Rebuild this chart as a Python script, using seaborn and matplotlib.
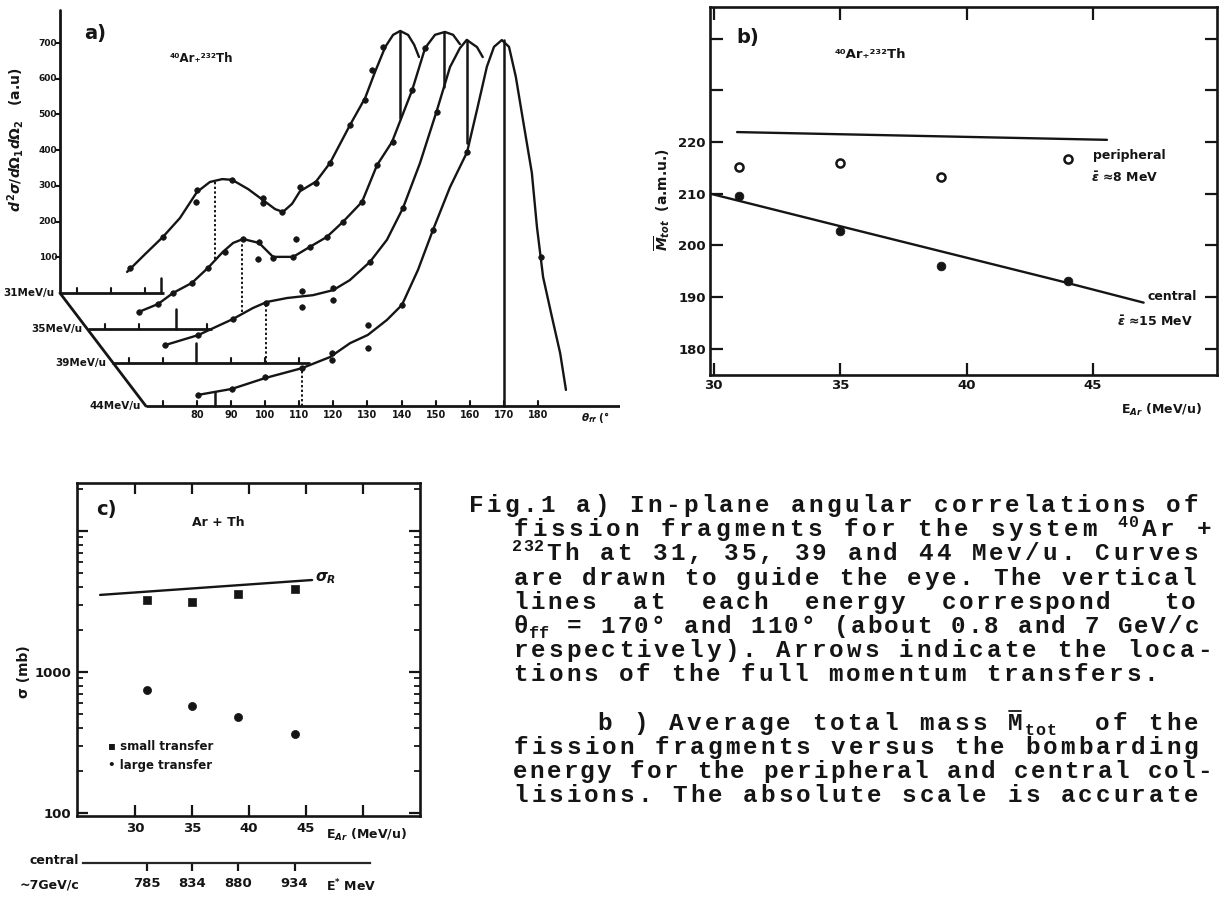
import unicodedata

import matplotlib
matplotlib.use("Agg")
import matplotlib.pyplot as plt
from matplotlib.lines import Line2D
from matplotlib.ticker import NullFormatter
import pandas as pd
import seaborn as sns

sns.set_style("ticks")
plt.rcParams["font.family"] = ["Liberation Sans Narrow", "DejaVu Sans"]
plt.rcParams["font.weight"] = "bold"
plt.rcParams["mathtext.fontset"] = "dejavusans"

INK = "#151515"
W, H = 1223, 898

# ---------------------------------------------------------------
# a) angular correlations, one frame per beam energy (waterfall)
# ---------------------------------------------------------------
ENERGY_LABELS = ["31MeV/u", "35MeV/u", "39MeV/u", "44MeV/u"]
# perspective shift of each energy frame (deg, a.u.)
SHIFT_THETA = [-25.2, -17.0, -10.0, 0.0]
SHIFT_SIGMA = [0.0, -100.8, -196.1, -316.5]

# hand drawn "guide the eye" curves
CURVE_THETA_31 = [84.7, 90.0, 95.2, 100.2, 105.2, 109.0, 112.6, 115.5, 120.2, 124.6, 128.1, 130.4,
                  133.1, 135.4, 140.1, 144.2, 150.1, 154.5, 157.4, 160.4, 162.7, 164.8, 167.1, 168.9, 170.3]
CURVE_SIGMA_31 = [59, 109, 157, 210, 283, 311, 319, 317, 291, 260, 235, 227,
                  250, 285, 312, 364, 471, 546, 619, 689, 723, 734, 723, 695, 661]
CURVE_THETA_35 = [80.0, 85.6, 90.0, 95.5, 100.2, 104.6, 107.6, 110.5, 115.2, 119.3, 125.2, 130.1,
                  135.1, 139.8, 145.4, 149.8, 154.2, 160.1, 163.9, 166.8, 169.7, 172.1, 174.1]
CURVE_SIGMA_35 = [48, 70, 101, 129, 171, 216, 241, 252, 241, 202, 202, 230,
                  258, 300, 356, 459, 524, 669, 787, 824, 832, 824, 798]
CURVE_THETA_39 = [80.6, 90.3, 100.5, 106.4, 110.5, 116.4, 124.0, 129.9, 134.8, 140.7, 145.7, 150.4,
                  155.4, 160.4, 164.2, 167.1, 169.1, 172.1, 173.8]
CURVE_SIGMA_39 = [50, 78, 123, 154, 171, 182, 190, 204, 232, 283, 345, 434,
                  560, 709, 829, 882, 905, 885, 857]
CURVE_THETA_44 = [80.3, 90.3, 99.9, 110.8, 119.0, 124.9, 130.1, 135.7, 140.1, 144.8, 149.2, 154.2, 159.2,
                  162.1, 165.0, 167.1, 169.4, 171.5, 173.5, 175.6, 178.2, 179.7, 181.5, 184.1, 186.5, 188.2]
CURVE_SIGMA_44 = [31, 48, 78, 106, 137, 176, 199, 241, 283, 381, 493, 613, 711,
                  829, 950, 1006, 1025, 1006, 922, 801, 653, 501, 361, 249, 148, 45]

# measured points
POINT_THETA_31 = [85.6, 95.2, 105.2, 104.9, 115.5, 124.6, 124.6, 130.1, 135.4, 140.1, 144.2, 150.1, 154.5, 156.5, 159.8]
POINT_SIGMA_31 = [70, 157, 289, 255, 317, 266, 252, 227, 297, 308, 364, 471, 541, 625, 689]
POINT_THETA_35 = [80.0, 85.6, 90.0, 95.5, 100.2, 105.2, 110.5, 115.2, 114.9, 119.3, 125.2, 126.0,
                  130.1, 135.1, 139.8, 145.4, 149.8, 154.5, 160.1, 163.9]
POINT_SIGMA_35 = [48, 70, 101, 129, 171, 216, 252, 244, 196, 199, 202, 252,
                  230, 258, 300, 356, 459, 524, 669, 787]
POINT_THETA_39 = [80.6, 90.3, 100.5, 110.2, 120.8, 120.8, 129.9, 129.9, 140.7, 150.4, 160.4]
POINT_SIGMA_39 = [50, 78, 123, 168, 202, 157, 210, 176, 283, 434, 703]
POINT_THETA_44 = [80.3, 90.3, 99.9, 110.8, 119.6, 119.6, 130.1, 130.1, 140.1, 149.2, 159.2, 180.8]
POINT_SIGMA_44 = [31, 48, 81, 106, 148, 129, 227, 162, 283, 493, 711, 417]

# vertical markers: theta_ff = 170 deg (solid) and 110 deg (dotted)
LINE170_THETA = [164.8, 169.4, 169.1, 170.0]
LINE170_TOP = [734, 832, 905, 1025]
LINE170_BOTTOM = [490, 678, 615, 0]
LINE110_THETA = [110.5, 110.2, 110.2, 110.8]
LINE110_TOP = [311, 241, 168, 106]
LINE110_BOTTOM = [95, 48, 0, 0]
# arrows: full momentum transfer
ARROW_THETA = [94.6, 90.9, 89.7, 85.3]

THETA_TICKS = [80, 90, 100, 110, 120, 130, 140, 150, 160, 170, 180]
SIGMA_TICKS = [100, 200, 300, 400, 500, 600, 700]

# ---------------------------------------------------------------
# b) average total mass vs bombarding energy
# ---------------------------------------------------------------
E_BEAM = [31, 35, 39, 44]
M_PERIPHERAL = [215.1, 215.9, 213.2, 216.7]
M_CENTRAL = [209.6, 202.7, 195.9, 193.0]
PERIPH_LINE_E = [30.93, 45.55]
PERIPH_LINE_M = [221.9, 220.4]
CENTRAL_LINE_E = [29.86, 35.0, 43.6, 47.0]
CENTRAL_LINE_M = [210.0, 203.7, 193.2, 188.9]

# ---------------------------------------------------------------
# c) cross sections
# ---------------------------------------------------------------
SIGMA_SMALL = [3240, 3130, 3570, 3880]
SIGMA_LARGE = [745, 574, 480, 363]
SIGMA_R_E = [26.93, 45.53]
SIGMA_R = [3520, 4490]
E_STAR = ["785", "834", "880", "934"]

CAPTION_LINES = [
    "Fig.1 a) In-plane angular correlations of",
    "fission fragments for the system ^{40}Ar +",
    "^{232}Th at 31, 35, 39 and 44 Mev/u. Curves",
    "are drawn to guide the eye. The vertical",
    "lines  at  each  energy  correspond   to",
    "θ_{ff} = 170° and 110° (about 0.8 and 7 GeV/c",
    "respectively). Arrows indicate the loca-",
    "tions of the full momentum transfers.",
    "b ) Average total mass M\u0304_{tot}  of the",
    "fission fragments versus the bombarding",
    "energy for the peripheral and central col-",
    "lisions. The absolute scale is accurate",
]
CAPTION_X0 = [467, 512, 512, 512, 512, 512, 512, 512, 596, 512, 512, 512]
CAPTION_X1 = [1200, 1213, 1200, 1197, 1197, 1200, 1213, None, 1200, 1200, 1213, 1200]
CAPTION_ROW = [0, 1, 2, 3, 4, 5, 6, 7, 9, 10, 11, 12]

fig = plt.figure(figsize=(W / 100, H / 100), dpi=100)
fig.patch.set_facecolor("white")


def px_axes(x0, y0, x1, y1):
    """Axes placed on a pixel box of the page (origin top left)."""
    return fig.add_axes([x0 / W, 1 - y1 / H, (x1 - x0) / W, (y1 - y0) / H])


def ftext(x, y, s, **kw):
    kw.setdefault("fontweight", "bold")
    kw.setdefault("color", INK)
    return fig.text(x / W, 1 - y / H, s, **kw)


# ===================== panel a =====================
ax_a = px_axes(0, 0, 620, 440)

curves = [(CURVE_THETA_31, CURVE_SIGMA_31), (CURVE_THETA_35, CURVE_SIGMA_35),
          (CURVE_THETA_39, CURVE_SIGMA_39), (CURVE_THETA_44, CURVE_SIGMA_44)]
points = [(POINT_THETA_31, POINT_SIGMA_31), (POINT_THETA_35, POINT_SIGMA_35),
          (POINT_THETA_39, POINT_SIGMA_39), (POINT_THETA_44, POINT_SIGMA_44)]


def shifted_frame(series):
    return pd.concat([
        pd.DataFrame({"energy": lab,
                      "x": [t + SHIFT_THETA[i] for t in th],
                      "y": [s + SHIFT_SIGMA[i] for s in sg]})
        for i, (lab, (th, sg)) in enumerate(zip(ENERGY_LABELS, series))
    ], ignore_index=True)


df_curves = shifted_frame(curves)
df_points = shifted_frame(points)

sns.lineplot(data=df_curves, x="x", y="y", units="energy", estimator=None, sort=False,
             color=INK, lw=1.7, ax=ax_a, legend=False)
sns.scatterplot(data=df_points, x="x", y="y", color=INK, edgecolor=INK, s=16,
                linewidth=0.5, ax=ax_a, legend=False, zorder=3)
ax_a.set_xlim(22.23, 204.05)
ax_a.set_ylim(-411.8, 820.7)
ax_a.axis("off")

frame_start = 65.0
base_end = [95.5, 101.4, 123.0, 204.0]
base_ticks = [[70, 80, 90], [70, 80, 100], [70, 80, 100, 110, 120],
              [70] + THETA_TICKS]
arrow_h = [42, 56, 56, 39]
for i in range(4):
    dx, dy = SHIFT_THETA[i], SHIFT_SIGMA[i]
    ax_a.plot([frame_start + dx, base_end[i] + dx], [dy, dy], color=INK, lw=2.0,
              solid_capstyle="butt")
    for t in base_ticks[i]:
        ax_a.plot([t + dx, t + dx], [dy, dy + 14], color=INK, lw=1.5)
    ax_a.plot([ARROW_THETA[i] + dx] * 2, [dy, dy + arrow_h[i]], color=INK, lw=1.8)
    ax_a.plot([LINE170_THETA[i] + dx] * 2, [LINE170_BOTTOM[i] + dy, LINE170_TOP[i] + dy],
              color=INK, lw=1.8)
    ax_a.plot([LINE110_THETA[i] + dx] * 2, [LINE110_BOTTOM[i] + dy, LINE110_TOP[i] + dy],
              color=INK, lw=1.4, ls=(0, (1.2, 1.2)))
    ax_a.text(frame_start - 1.6 + dx, dy, ENERGY_LABELS[i], ha="right", va="center",
              fontsize=7.5, fontweight="bold", color=INK)

# perspective diagonal and the sigma axis of the back frame
ax_a.plot([frame_start + SHIFT_THETA[0], frame_start + SHIFT_THETA[3]],
          [SHIFT_SIGMA[0], SHIFT_SIGMA[3]], color=INK, lw=2.0)
ax_a.plot([frame_start + SHIFT_THETA[0]] * 2, [0, 792], color=INK, lw=2.0)
for s in SIGMA_TICKS:
    x0 = frame_start + SHIFT_THETA[0]
    ax_a.plot([x0 - 1.2, x0], [s, s], color=INK, lw=1.5)
    ax_a.text(x0 - 0.8, s, str(s), ha="right", va="center", fontsize=6.5,
              fontweight="bold", color=INK)
for t in THETA_TICKS:
    ax_a.text(t, SHIFT_SIGMA[3] - 12, str(t), ha="center", va="top", fontsize=7,
              fontweight="bold", color=INK)
ax_a.text(192.5, SHIFT_SIGMA[3] - 10, r"$\theta_{ff}$ (°", ha="left", va="top",
          fontsize=7.5, color=INK)

ftext(84, 34, "a)", fontsize=14, va="center")
ftext(170, 58, "⁴⁰Ar₊²³²Th", fontsize=8.5, va="center")
ftext(16, 140, r"$d^2\sigma/d\Omega_1 d\Omega_2$   (a.u)", fontsize=10, rotation=90,
      ha="center", va="center")

# ===================== panel b =====================
ax_b = px_axes(710, 7, 1217, 375)
sns.lineplot(x=PERIPH_LINE_E, y=PERIPH_LINE_M, color=INK, lw=1.7, ax=ax_b)
sns.lineplot(x=CENTRAL_LINE_E, y=CENTRAL_LINE_M, color=INK, lw=1.7, ax=ax_b)
sns.scatterplot(x=E_BEAM, y=M_PERIPHERAL, marker="o", s=34, color="white",
                edgecolor=INK, linewidth=1.8, ax=ax_b, zorder=3)
sns.scatterplot(x=E_BEAM, y=M_CENTRAL, marker="o", s=40, color=INK, edgecolor=INK,
                linewidth=0.5, ax=ax_b, zorder=3)
ax_b.set_xlim(29.86, 49.9)
ax_b.set_ylim(174.9, 246.1)
ax_b.set_xticks([30, 35, 40, 45])
ax_b.set_yticks([180, 190, 200, 210, 220, 230, 240])
ax_b.set_yticklabels(["180", "190", "200", "210", "220", "", ""])
ax_b.tick_params(direction="in", length=9, width=1.6, top=True, right=True,
                 labelsize=9.5, pad=3, colors=INK)
ax_b.set_xlabel("")
ax_b.set_ylabel("")
for sp in ax_b.spines.values():
    sp.set_linewidth(1.9)
    sp.set_color(INK)

ftext(736, 37, "b)", fontsize=14, va="center")
ftext(835, 55, "⁴⁰Ar₊²³²Th", fontsize=9.5, va="center")
ftext(1093, 155, "peripheral", fontsize=9, va="center")
ftext(1091, 178, r"$\bar{\epsilon}$ ≈8 MeV", fontsize=9, va="center")
ftext(1147, 297, "central", fontsize=9, va="center")
ftext(1117, 322, r"$\bar{\epsilon}$ ≈15 MeV", fontsize=9, va="center")
ftext(1121, 410, r"E$_{Ar}$ (MeV/u)", fontsize=9, va="center")
ftext(662, 200, r"$\overline{M}_{tot}$  (a.m.u.)", fontsize=10, rotation=90,
      ha="center", va="center")

# ===================== panel c =====================
ax_c = px_axes(77, 483, 420, 816)
sns.lineplot(x=SIGMA_R_E, y=SIGMA_R, color=INK, lw=1.7, ax=ax_c)
sns.scatterplot(x=E_BEAM, y=SIGMA_SMALL, marker="s", s=30, color=INK, edgecolor=INK,
                linewidth=0.5, ax=ax_c, zorder=3)
sns.scatterplot(x=E_BEAM, y=SIGMA_LARGE, marker="o", s=34, color=INK, edgecolor=INK,
                linewidth=0.5, ax=ax_c, zorder=3)
ax_c.set_yscale("log")
ax_c.set_xlim(24.9, 55.0)
ax_c.set_ylim(95.3, 21880)
ax_c.set_xticks([30, 35, 40, 45, 50])
ax_c.set_xticklabels(["30", "35", "40", "45", ""])
ax_c.set_yticks([100, 1000, 10000])
ax_c.set_yticklabels(["100", "1000", ""])
ax_c.set_yticks([m * d for d in (100, 1000) for m in range(2, 10)] + [20000], minor=True)
ax_c.yaxis.set_minor_formatter(NullFormatter())
ax_c.tick_params(which="major", direction="in", length=8, width=1.6, top=True,
                 right=True, labelsize=9.5, pad=4, colors=INK)
ax_c.tick_params(which="minor", direction="in", length=4, width=1.3, right=True, colors=INK)
ax_c.set_xlabel("")
ax_c.set_ylabel("")
for sp in ax_c.spines.values():
    sp.set_linewidth(1.9)
    sp.set_color(INK)

# second energy scale under the plot (E* of the central collisions)
sec = ax_c.secondary_xaxis((816 - 863) / 333)
sec.set_xticks(E_BEAM)
sec.set_xticklabels(E_STAR)
sec.tick_params(direction="out", length=6, width=1.6, labelsize=9.5, pad=4, colors=INK)
sec.spines["bottom"].set_bounds(25.4, 50.6)
sec.spines["bottom"].set_linewidth(1.6)

ftext(96, 510, "c)", fontsize=14, va="center")
ftext(218, 522, "Ar + Th", fontsize=9, ha="center", va="center")
ftext(315, 578, r"$\sigma_R$", fontsize=11, va="center")
ftext(108, 746, "▪ small transfer", fontsize=8.5, va="center")
ftext(108, 765, "• large transfer", fontsize=8.5, va="center")
ftext(24, 672, "σ (mb)", fontsize=10, rotation=90, ha="center", va="center")
ftext(326, 835, r"E$_{Ar}$ (MeV/u)", fontsize=9, va="center")
ftext(79, 860, "central", fontsize=9, ha="right", va="center")
ftext(20, 885, "~7GeV/c", fontsize=9, va="center")
ftext(326, 886, r"E$^{*}$ MeV", fontsize=9, va="center")


# ===================== caption =====================
def caption_cells(line):
    """Split a caption line into typewriter cells: [char, shift]."""
    cells = []
    i = 0
    while i < len(line):
        if line[i] in "^_" and i + 1 < len(line) and line[i + 1] == "{":
            j = line.index("}", i)
            shift = 1 if line[i] == "^" else -1
            for ch in line[i + 2:j]:
                cells.append([ch, shift])
            i = j + 1
            continue
        ch = line[i]
        if unicodedata.combining(ch) and cells:
            cells[-1][0] += ch
        else:
            cells.append([ch, 0])
        i += 1
    return cells


mono = ["Liberation Mono", "DejaVu Sans Mono"]
pitch_default = 17.5
row_step = 24.2
first_base = 512
for line, x0, x1, row in zip(CAPTION_LINES, CAPTION_X0, CAPTION_X1, CAPTION_ROW):
    yb = first_base + row * row_step
    cells = caption_cells(line)
    widths = [1.0 if sh == 0 else 0.62 for _, sh in cells]
    pitch = (x1 - x0) / sum(widths) if x1 else pitch_default
    cum = 0.0
    for (ch, shift), w in zip(cells, widths):
        xc = x0 + (cum + w / 2) * pitch
        cum += w
        if ch == " ":
            continue
        if shift > 0:
            size, y = 12.0, yb - 9
        elif shift < 0:
            size, y = 12.0, yb + 5
        else:
            size, y = 17.5, yb
        ftext(xc, y, ch[0], fontsize=size, family=mono, ha="center", va="baseline")
        if len(ch) > 1:  # macron over the M
            bar = Line2D([(xc - 6) / W, (xc + 6) / W], [1 - (y - 19) / H] * 2,
                         transform=fig.transFigure, color=INK, lw=1.3)
            fig.add_artist(bar)

fig.savefig("out.png", dpi=100, facecolor="white")
